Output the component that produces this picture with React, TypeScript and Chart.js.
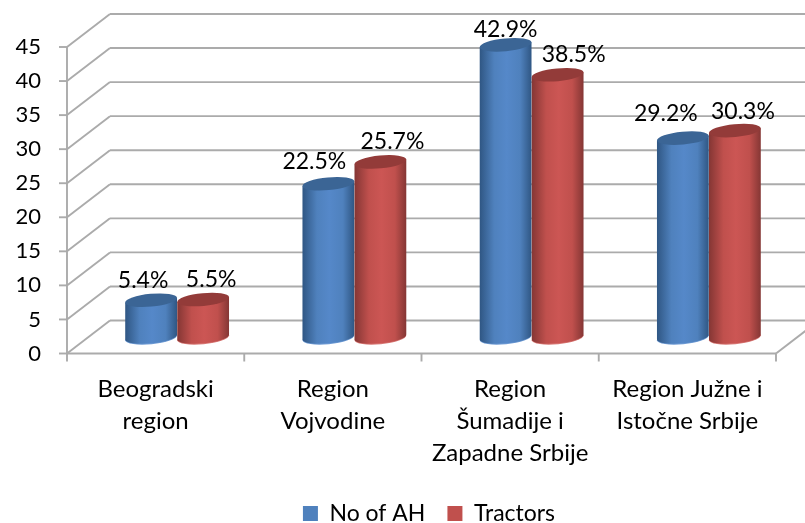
import React, { useEffect, useRef } from "react";
import { Chart, registerables } from "chart.js";

Chart.register(...registerables);

const categories = [
  ["Beogradski", "region"],
  ["Region", "Vojvodine"],
  ["Region", "Šumadije i", "Zapadne Srbije"],
  ["Region Južne i", "Istočne Srbije"],
];
const noOfAH = [5.4, 22.5, 42.9, 29.2];
const tractors = [5.5, 25.7, 38.5, 30.3];
const seriesNames = ["No of AH", "Tractors"];

const FONT = "Lato, Carlito, sans-serif";
const DEPTH_X = 43;
const DEPTH_Y = 33;
const GRID = "#ababab";
const palettes = [
  { flat: "#4f81bd", edge: "#2f5683", mid: "#5588c9", top: "#3b6595", rim: "#6f9bd4" },
  { flat: "#c0504d", edge: "#843634", mid: "#cc5654", top: "#933b39", rim: "#d87a77" },
];
// manual data-label placement, [dx, dy] from the cylinder's top centre
const labelNudge = [
  [[-8, -20], [-14, -22], [0, -15], [-17, -25]],
  [[8, -20], [12, -20], [16, -20], [8, -19]],
];

const cylinders = {
  id: "cylinders",
  afterLayout(chart: any) {
    chart.legend.left += 41;
    chart.legend.right += 41;
  },
  beforeDatasetsDraw(chart: any) {
    const { ctx, scales } = chart;
    const xs = scales.x;
    const ys = scales.y;
    const left = xs.left;
    const right = xs.right;

    ctx.save();
    ctx.strokeStyle = GRID;
    ctx.lineWidth = 1.9;
    const line = (x1: number, y1: number, x2: number, y2: number) => {
      ctx.beginPath();
      ctx.moveTo(x1, y1);
      ctx.lineTo(x2, y2);
      ctx.stroke();
    };
    ys.ticks.forEach((t: any) => {
      const y = ys.getPixelForValue(t.value);
      line(left - 8, y, left, y);
      line(left, y, left + DEPTH_X, y - DEPTH_Y);
      line(left + DEPTH_X, y - DEPTH_Y, right + DEPTH_X, y - DEPTH_Y);
    });
    const y0 = ys.getPixelForValue(0);
    line(left, ys.getPixelForValue(45), left, y0);
    line(left, y0, right, y0);
    line(right, y0, right + DEPTH_X, y0 - DEPTH_Y);
    for (let i = 0; i <= categories.length; i++) {
      const x = left + ((right - left) * i) / categories.length;
      line(x, y0, x, y0 + 8);
    }

    const tilt = -0.095;
    const drawOne = (el: any, p: any) => {
      const cx = el.x + DEPTH_X / 2;
      const top = el.y - DEPTH_Y / 2;
      const base = el.base - DEPTH_Y / 2;
      const a = el.width / 2;
      const b = 6.4;
      const dx = a * Math.cos(tilt);
      const dy = a * Math.sin(tilt);
      const g = ctx.createLinearGradient(cx - a, 0, cx + a, 0);
      g.addColorStop(0, p.edge);
      g.addColorStop(0.28, p.flat);
      g.addColorStop(0.52, p.mid);
      g.addColorStop(0.78, p.flat);
      g.addColorStop(1, p.edge);

      // rim light along the underside
      ctx.fillStyle = p.rim;
      ctx.beginPath();
      ctx.ellipse(cx, base + 0.8, a, b, tilt, 0, Math.PI * 2);
      ctx.fill();

      ctx.fillStyle = g;
      ctx.beginPath();
      ctx.moveTo(cx - dx, top - dy);
      ctx.lineTo(cx - dx, base - dy);
      ctx.ellipse(cx, base, a, b, tilt, Math.PI, 0, true);
      ctx.lineTo(cx + dx, top + dy);
      ctx.closePath();
      ctx.fill();

      ctx.fillStyle = p.top;
      ctx.beginPath();
      ctx.ellipse(cx, top, a, b, tilt, 0, Math.PI * 2);
      ctx.fill();
    };

    const metas = chart.data.datasets.map((_: any, i: number) => chart.getDatasetMeta(i));
    metas.forEach((meta: any, di: number) => {
      meta.data.forEach((el: any) => drawOne(el, palettes[di]));
    });

    ctx.fillStyle = "#000";
    ctx.font = `23px ${FONT}`;
    ctx.textAlign = "center";
    ctx.textBaseline = "middle";
    metas.forEach((meta: any, di: number) => {
      meta.data.forEach((el: any, i: number) => {
        const v = chart.data.datasets[di].data[i];
        const [nx, ny] = labelNudge[di][i];
        ctx.fillText(`${v.toFixed(1)}%`, el.x + DEPTH_X / 2 + nx, el.y - DEPTH_Y / 2 + ny);
      });
    });
    ctx.restore();
    return false;
  },
};

export default function App() {
  const ref = useRef<HTMLCanvasElement>(null);
  useEffect(() => {
    const chart = new Chart(ref.current as HTMLCanvasElement, {
      type: "bar",
      data: {
        labels: categories as any,
        datasets: [
          { label: seriesNames[0], data: noOfAH, backgroundColor: palettes[0].flat },
          { label: seriesNames[1], data: tractors, backgroundColor: palettes[1].flat },
        ],
      },
      options: {
        animation: false,
        responsive: false,
        layout: { padding: { top: 47, right: 29, left: 0, bottom: -12 } },
        scales: {
          x: {
            grid: { display: false },
            border: { display: false },
            ticks: {
              color: "#000",
              maxRotation: 0,
              autoSkip: false,
              padding: 12,
              font: { family: FONT, size: 24, lineHeight: 1.333 },
            },
            afterFit: (s: any) => { s.height = 126.5; },
          },
          y: {
            min: 0,
            max: 45,
            grid: { display: false },
            border: { display: false },
            ticks: {
              stepSize: 5,
              color: "#000",
              padding: 18,
              font: { family: FONT, size: 22 },
            },
            afterFit: (s: any) => { s.width = 67; },
          },
        },
        datasets: { bar: { categoryPercentage: 0.587, barPercentage: 1 } },
        plugins: {
          tooltip: { enabled: false },
          legend: {
            position: "bottom",
            labels: {
              boxWidth: 15,
              boxHeight: 15,
              padding: 22,
              color: "#000",
              font: { family: FONT, size: 23 },
            },
          },
        },
      },
      plugins: [cylinders],
    } as any);
    return () => chart.destroy();
  }, []);
  return (
    <div style={{ position: "absolute", left: 0, top: 0, width: 805, height: 523, background: "#fff" }}>
      <canvas ref={ref} width={805} height={523} style={{ display: "block" }} />
    </div>
  );
}
